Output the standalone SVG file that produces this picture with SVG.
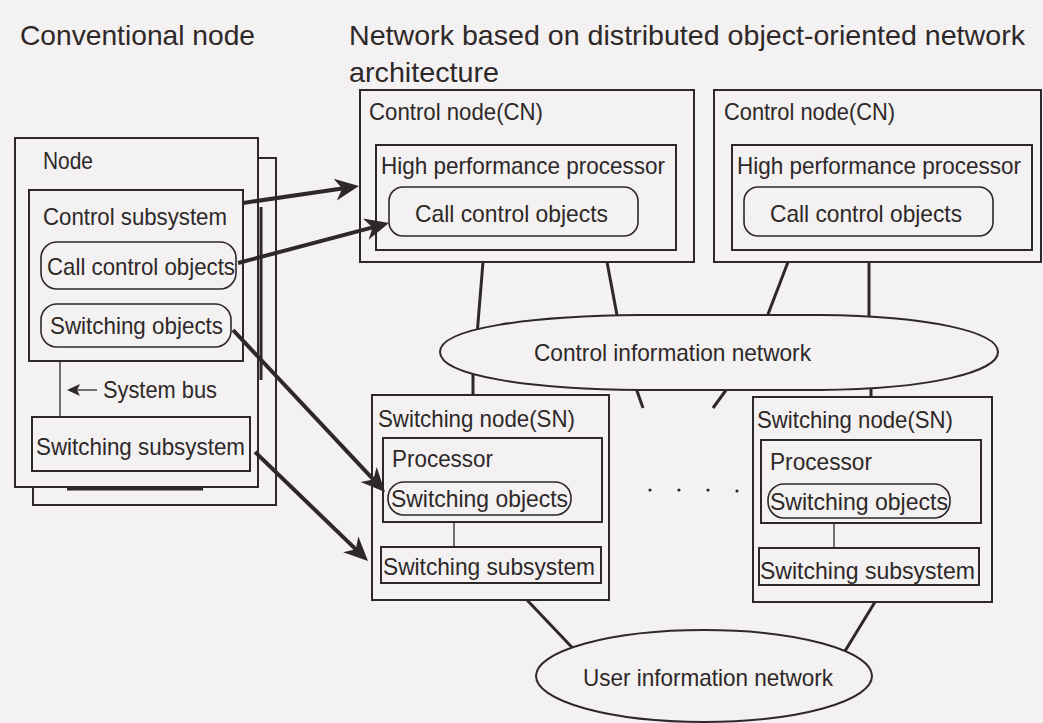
<svg xmlns="http://www.w3.org/2000/svg" width="1043" height="723" viewBox="0 0 1043 723">
  <defs>
    <style>
      .bg { fill: #f3f1f1; }
      .t { font-family: "Liberation Sans", Arial, sans-serif; font-size: 24px; fill: #2e2829; }
      .title { font-family: "Liberation Sans", Arial, sans-serif; font-size: 28px; fill: #2e2829; }
      .box { fill: none; stroke: #2e2829; stroke-width: 2; }
      .obj { fill: none; stroke: #2e2829; stroke-width: 1.6; }
      .thin { fill: none; stroke: #2e2829; stroke-width: 1.3; }
      .heavy { fill: none; stroke: #2e2829; stroke-width: 3; }
      .net { fill: #f3f1f1; stroke: #2e2829; stroke-width: 2; }
      .link { fill: none; stroke: #2e2829; stroke-width: 3; }
      .arrow { fill: none; stroke: #2e2829; stroke-width: 4; marker-end: url(#head); }
      .dot { fill: #2e2829; }
    </style>
    <marker id="head" markerUnits="userSpaceOnUse" markerWidth="30" markerHeight="26" viewBox="0 -13 30 26" refX="14" refY="0" orient="auto">
      <path d="M0,-11 L24,0 L0,11 L7,0 Z" fill="#2e2829"/>
    </marker>
    <marker id="small" markerUnits="userSpaceOnUse" markerWidth="16" markerHeight="14" viewBox="0 -7 16 14" refX="10" refY="0" orient="auto">
      <path d="M0,-6 L13,0 L0,6 L3,0 Z" fill="#2e2829"/>
    </marker>
  </defs>

  <rect class="bg" x="0" y="0" width="1043" height="723"/>

  <!-- headings -->
  <g id="headings">
    <text class="title" x="20" y="45" textLength="235" lengthAdjust="spacingAndGlyphs">Conventional node</text>
    <text class="title" x="349" y="45" textLength="676" lengthAdjust="spacingAndGlyphs">Network based on distributed object-oriented network</text>
    <text class="title" x="349" y="82" textLength="150" lengthAdjust="spacingAndGlyphs">architecture</text>
  </g>

  <!-- connectors -->
  <g id="connectors">
    <!-- migration arrows from the conventional node -->
    <line class="arrow" x1="243" y1="203" x2="349.1" y2="187.5"/>
    <line class="arrow" x1="238" y1="263" x2="379.3" y2="225.6"/>
    <line class="arrow" x1="233" y1="330" x2="378.2" y2="484.7"/>
    <line class="arrow" x1="255" y1="452" x2="360.8" y2="554.1"/>
    <!-- control nodes to control information network -->
    <line class="link" x1="483" y1="262" x2="477" y2="335"/>
    <line class="link" x1="607" y1="262" x2="619.8" y2="330"/>
    <line class="link" x1="788" y1="262" x2="762" y2="330"/>
    <line class="link" x1="869" y1="262" x2="869" y2="330"/>
    <!-- control information network to switching nodes -->
    <line class="link" x1="473" y1="370" x2="473" y2="395"/>
    <line class="link" x1="631.4" y1="375" x2="643" y2="408"/>
    <line class="link" x1="737" y1="375" x2="713" y2="408"/>
    <line class="link" x1="871" y1="375" x2="871" y2="397"/>
    <!-- switching nodes to user information network -->
    <line class="link" x1="527" y1="600" x2="584" y2="660"/>
    <line class="link" x1="875" y1="602" x2="839.5" y2="660"/>
    <!-- internal links -->
    <line class="thin" x1="454" y1="522" x2="454" y2="547"/>
    <line class="thin" x1="834" y1="523" x2="834" y2="548"/>
  </g>

  <!-- conventional node -->
  <g id="conventional-node">
    <path class="box" d="M258,158 H276 V505 H33 V487"/>
    <rect class="box" x="15" y="138" width="243" height="349"/>
    <line class="heavy" x1="261" y1="207" x2="261" y2="380"/>
    <line class="heavy" x1="67" y1="489" x2="203" y2="489"/>
    <text class="t" x="43" y="169" textLength="50" lengthAdjust="spacingAndGlyphs">Node</text>
    <g id="control-subsystem">
      <rect class="box" x="29" y="190" width="214" height="171"/>
      <text class="t" x="43" y="225" textLength="184" lengthAdjust="spacingAndGlyphs">Control subsystem</text>
      <rect class="obj" x="41" y="242" width="195" height="47" rx="16"/>
      <text class="t" x="47" y="275" textLength="188" lengthAdjust="spacingAndGlyphs">Call control objects</text>
      <rect class="obj" x="41" y="304" width="190" height="43" rx="16"/>
      <text class="t" x="50" y="334" textLength="173" lengthAdjust="spacingAndGlyphs">Switching objects</text>
    </g>
    <g id="system-bus">
      <line class="thin" x1="60" y1="361" x2="60" y2="417"/>
      <line class="thin" x1="97" y1="390" x2="70" y2="390" marker-end="url(#small)"/>
      <text class="t" x="103" y="398" textLength="114" lengthAdjust="spacingAndGlyphs">System bus</text>
    </g>
    <g id="switching-subsystem">
      <rect class="box" x="32" y="417" width="218" height="54"/>
      <text class="t" x="36" y="455" textLength="209" lengthAdjust="spacingAndGlyphs">Switching subsystem</text>
    </g>
  </g>

  <!-- control nodes -->
  <g id="control-node-1">
    <rect class="box" x="360" y="90" width="334" height="172"/>
    <text class="t" x="369" y="120" textLength="174" lengthAdjust="spacingAndGlyphs">Control node(CN)</text>
    <rect class="box" x="376" y="145" width="300" height="105"/>
    <text class="t" x="381" y="174" textLength="284" lengthAdjust="spacingAndGlyphs">High performance processor</text>
    <rect class="obj" x="389" y="187" width="249" height="49" rx="14"/>
    <text class="t" x="415" y="222" textLength="193" lengthAdjust="spacingAndGlyphs">Call control objects</text>
  </g>
  <g id="control-node-2">
    <rect class="box" x="714" y="90" width="327" height="172"/>
    <text class="t" x="724" y="120" textLength="171" lengthAdjust="spacingAndGlyphs">Control node(CN)</text>
    <rect class="box" x="732" y="145" width="300" height="105"/>
    <text class="t" x="737" y="174" textLength="284" lengthAdjust="spacingAndGlyphs">High performance processor</text>
    <rect class="obj" x="744" y="187" width="249" height="49" rx="14"/>
    <text class="t" x="770" y="222" textLength="192" lengthAdjust="spacingAndGlyphs">Call control objects</text>
  </g>

  <!-- control information network -->
  <g id="control-information-network">
    <path class="net" d="M440,352 C440,328 530,316 640,315 L820,315 C930,316 998,332 998,352 C998,372 930,389 820,390 L640,390 C530,389 440,376 440,352 Z"/>
    <text class="t" x="534" y="361" textLength="277" lengthAdjust="spacingAndGlyphs">Control information network</text>
  </g>

  <!-- switching nodes -->
  <g id="switching-node-1">
    <rect class="box" x="372" y="395" width="237" height="205"/>
    <text class="t" x="378" y="427" textLength="197" lengthAdjust="spacingAndGlyphs">Switching node(SN)</text>
    <rect class="box" x="383" y="438" width="219" height="84"/>
    <text class="t" x="392" y="467" textLength="101" lengthAdjust="spacingAndGlyphs">Processor</text>
    <rect class="obj" x="388" y="482" width="183" height="33" rx="16"/>
    <text class="t" x="391" y="507" textLength="177" lengthAdjust="spacingAndGlyphs">Switching objects</text>
    <rect class="box" x="381" y="547" width="220" height="36"/>
    <text class="t" x="383" y="575" textLength="212" lengthAdjust="spacingAndGlyphs">Switching subsystem</text>
  </g>
  <g id="continuation">
    <circle class="dot" cx="650" cy="490" r="1.6"/>
    <circle class="dot" cx="679" cy="490" r="1.6"/>
    <circle class="dot" cx="708" cy="490" r="1.6"/>
    <circle class="dot" cx="737" cy="491" r="1.6"/>
  </g>
  <g id="switching-node-2">
    <rect class="box" x="753" y="397" width="239" height="205"/>
    <text class="t" x="757" y="428" textLength="196" lengthAdjust="spacingAndGlyphs">Switching node(SN)</text>
    <rect class="box" x="761" y="440" width="220" height="83"/>
    <text class="t" x="770" y="470" textLength="102" lengthAdjust="spacingAndGlyphs">Processor</text>
    <rect class="obj" x="768" y="484" width="182" height="34" rx="16"/>
    <text class="t" x="770" y="510" textLength="178" lengthAdjust="spacingAndGlyphs">Switching objects</text>
    <rect class="box" x="759" y="548" width="220" height="37"/>
    <text class="t" x="760" y="579" textLength="215" lengthAdjust="spacingAndGlyphs">Switching subsystem</text>
  </g>

  <!-- user information network -->
  <g id="user-information-network">
    <ellipse class="net" cx="704" cy="676" rx="168" ry="46"/>
    <text class="t" x="583" y="686" textLength="250" lengthAdjust="spacingAndGlyphs">User information network</text>
  </g>
</svg>
